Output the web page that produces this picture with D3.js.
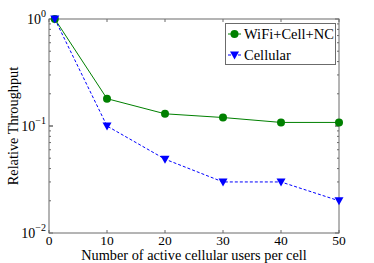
<!DOCTYPE html>
<html>
<head>
<meta charset="utf-8">
<script src="https://cdn.jsdelivr.net/npm/d3@7"></script>
<style>
  body { margin: 0; background: #fff; }
  svg { display: block; font-family: "Liberation Serif", "DejaVu Serif", serif; }
</style>
</head>
<body>
<svg></svg>
<script>
const width = 374;
const height = 263;

// Data
const users = [1, 10, 20, 30, 40, 50];
const wifiCellNC = [1.0, 0.18, 0.13, 0.12, 0.108, 0.108];
const cellular = [1.0, 0.1, 0.049, 0.03, 0.03, 0.02];
const xTicks = [0, 10, 20, 30, 40, 50];
const yExponents = [0, -1, -2];

const margin = { left: 49, right: 35, top: 19, bottom: 30 };

const svg = d3.select("svg")
    .attr("width", width)
    .attr("height", height);

const x = d3.scaleLinear().domain([0, 50]).range([margin.left, width - margin.right]);
const y = d3.scaleLog().domain([0.01, 1]).range([height - margin.bottom, margin.top]);

const axisColor = "#6b6b6b";
const x0 = x.range()[0], x1 = x.range()[1];
const y0 = y.range()[0], y1 = y.range()[1];

// Box
svg.append("rect")
    .attr("x", x0).attr("y", y1)
    .attr("width", x1 - x0).attr("height", y0 - y1)
    .attr("fill", "none").attr("stroke", axisColor).attr("stroke-width", 1);

// X ticks (bottom and top, pointing in)
xTicks.forEach(function(t) {
    svg.append("line").attr("x1", x(t)).attr("x2", x(t)).attr("y1", y0).attr("y2", y0 - 3)
        .attr("stroke", axisColor);
    svg.append("line").attr("x1", x(t)).attr("x2", x(t)).attr("y1", y1).attr("y2", y1 + 3)
        .attr("stroke", axisColor);
    svg.append("text")
        .attr("x", x(t)).attr("y", y0 + 12)
        .attr("text-anchor", "middle").attr("font-size", "13.5px")
        .text(t);
});

// Y ticks, major and minor, on both sides
[0.01, 0.1].forEach(function(decade) {
    for (let k = 1; k <= 10; k++) {
        const v = decade * k;
        const len = (k === 1 || k === 10) ? 4 : 2;
        svg.append("line").attr("x1", x0).attr("x2", x0 + len).attr("y1", y(v)).attr("y2", y(v))
            .attr("stroke", axisColor);
        svg.append("line").attr("x1", x1).attr("x2", x1 - len).attr("y1", y(v)).attr("y2", y(v))
            .attr("stroke", axisColor);
    }
});

yExponents.forEach(function(e) {
    const g = svg.append("text")
        .attr("x", x0 - 3).attr("y", y(Math.pow(10, e)) + 5)
        .attr("text-anchor", "end").attr("font-size", "14px");
    g.append("tspan").text("10");
    g.append("tspan").attr("dy", -7).attr("font-size", "10px").text(e === 0 ? "0" : "\u2212" + (-e));
});

// Axis labels
svg.append("text")
    .attr("x", (x0 + x1) / 2).attr("y", height - 3)
    .attr("text-anchor", "middle").attr("font-size", "14.3px")
    .text("Number of active cellular users per cell");

svg.append("text")
    .attr("transform", `translate(18,${(y0 + y1) / 2}) rotate(-90)`)
    .attr("text-anchor", "middle").attr("font-size", "14.3px")
    .text("Relative Throughput");

const line = d3.line().x(d => x(d[0])).y(d => y(d[1]));

// WiFi+Cell+NC
const green = "#008000";
svg.append("path")
    .datum(d3.zip(users, wifiCellNC))
    .attr("d", line).attr("fill", "none").attr("stroke", green).attr("stroke-width", 1);
svg.selectAll(".dot")
    .data(d3.zip(users, wifiCellNC)).enter().append("circle")
    .attr("cx", d => x(d[0])).attr("cy", d => y(d[1])).attr("r", 4)
    .attr("fill", green);

// Cellular
const blue = "#0000ff";
const tri = "M-4.5,-3.5L4.5,-3.5L0,4.5Z";
svg.append("path")
    .datum(d3.zip(users, cellular))
    .attr("d", line).attr("fill", "none").attr("stroke", blue).attr("stroke-width", 1)
    .attr("stroke-dasharray", "3,2");
svg.selectAll(".tri")
    .data(d3.zip(users, cellular)).enter().append("path")
    .attr("transform", d => `translate(${x(d[0])},${y(d[1])})`)
    .attr("d", tri).attr("fill", blue);

// Legend
const lg = svg.append("g");
lg.append("rect")
    .attr("x", 225.5).attr("y", 23.5).attr("width", 110).attr("height", 41)
    .attr("fill", "#fff").attr("stroke", axisColor);
lg.append("line").attr("x1", 228).attr("x2", 241).attr("y1", 34).attr("y2", 34)
    .attr("stroke", green);
lg.append("circle").attr("cx", 234.5).attr("cy", 34).attr("r", 4).attr("fill", green);
lg.append("text").attr("x", 244).attr("y", 39).attr("font-size", "14.5px").text("WiFi+Cell+NC");
lg.append("line").attr("x1", 228).attr("x2", 241).attr("y1", 55).attr("y2", 55)
    .attr("stroke", blue).attr("stroke-dasharray", "3,2");
lg.append("path").attr("transform", "translate(234.5,55)").attr("d", tri).attr("fill", blue);
lg.append("text").attr("x", 244).attr("y", 60).attr("font-size", "14.5px").text("Cellular");
</script>
</body>
</html>
